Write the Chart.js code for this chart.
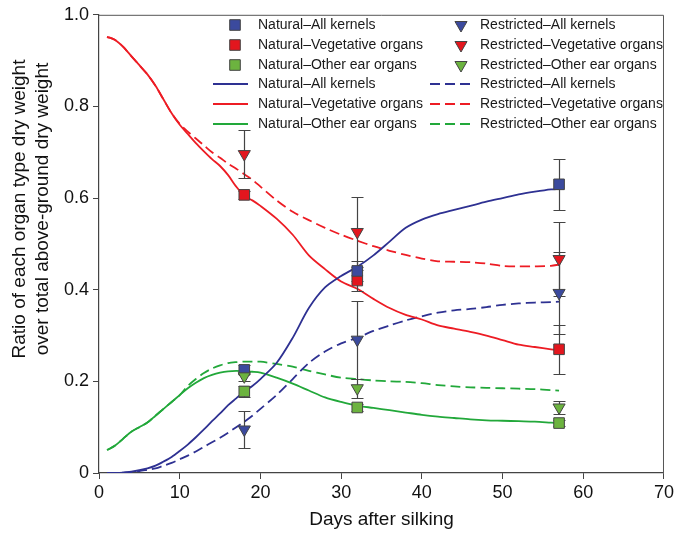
<!DOCTYPE html>
<html>
<head>
<meta charset="utf-8">
<script src="https://cdn.jsdelivr.net/npm/chart.js@4/dist/chart.umd.min.js"></script>
<style>
  html, body { margin: 0; padding: 0; background: #fff; }
  #wrap { width: 677px; height: 537px; position: relative; }
</style>
</head>
<body>
<div id="wrap"><canvas id="chart"></canvas></div>
<script>
/* ================================================
   DATA
================================================ */

const curveDays = [1, 2, 3, 4, 5, 6, 7, 8, 9, 10, 11, 12, 13, 14, 15, 16, 17, 18, 19, 20,
  22, 24, 26, 28, 30, 32, 34, 36, 38, 40, 42, 44, 46, 48, 50, 52, 54, 56, 57];

const natAllCurve = [0, 0, 0.001, 0.003, 0.006, 0.01, 0.016, 0.025, 0.035, 0.048, 0.062, 0.078, 0.095,
  0.113, 0.13, 0.148, 0.163, 0.178, 0.19, 0.205, 0.24, 0.295, 0.36, 0.405, 0.43, 0.45, 0.475, 0.505,
  0.535, 0.553, 0.565, 0.574, 0.583, 0.592, 0.6, 0.608, 0.614, 0.619, 0.62];
const natVegCurve = [0.952, 0.945, 0.93, 0.91, 0.89, 0.87, 0.845, 0.815, 0.785, 0.76, 0.74, 0.72,
  0.702, 0.685, 0.67, 0.65, 0.625, 0.605, 0.595, 0.583, 0.555, 0.52, 0.475, 0.445, 0.418, 0.402, 0.38,
  0.36, 0.345, 0.335, 0.322, 0.315, 0.308, 0.3, 0.29, 0.28, 0.275, 0.27, 0.268];
const natOthCurve = [0.05, 0.06, 0.075, 0.09, 0.1, 0.11, 0.125, 0.14, 0.155, 0.17, 0.185, 0.197,
  0.207, 0.214, 0.219, 0.222, 0.223, 0.222, 0.221, 0.219, 0.208, 0.195, 0.18, 0.165, 0.155, 0.147,
  0.142, 0.137, 0.132, 0.127, 0.123, 0.12, 0.117, 0.115, 0.114, 0.113, 0.112, 0.11, 0.109];

const resAllCurve = [0, 0, 0.001, 0.002, 0.004, 0.007, 0.01, 0.016, 0.022, 0.03, 0.038, 0.047, 0.057,
  0.067, 0.077, 0.088, 0.1, 0.112, 0.125, 0.14, 0.17, 0.205, 0.24, 0.265, 0.283, 0.295, 0.31, 0.322,
  0.333, 0.342, 0.35, 0.355, 0.358, 0.362, 0.367, 0.37, 0.372, 0.373, 0.374];
const resVegCurve = [0.952, 0.945, 0.93, 0.91, 0.89, 0.87, 0.845, 0.815, 0.785, 0.762, 0.745, 0.73,
  0.715, 0.7, 0.688, 0.675, 0.664, 0.652, 0.64, 0.625, 0.595, 0.57, 0.552, 0.535, 0.52, 0.507, 0.495,
  0.485, 0.476, 0.468, 0.462, 0.461, 0.46, 0.457, 0.452, 0.451, 0.451, 0.452, 0.455];
const resOthCurve = [0.05, 0.06, 0.075, 0.09, 0.1, 0.11, 0.125, 0.14, 0.155, 0.17, 0.19, 0.205,
  0.218, 0.228, 0.235, 0.24, 0.242, 0.243, 0.243, 0.243, 0.238, 0.232, 0.223, 0.215, 0.208, 0.205,
  0.202, 0.2, 0.199, 0.196, 0.192, 0.189, 0.187, 0.186, 0.185, 0.184, 0.183, 0.181, 0.18];

const sampleDays = [18, 32, 57];

const natAllPts = [0.225, 0.441, 0.63];
const natVegPts = [0.607, 0.42, 0.27];
const natOthPts = [0.178, 0.143, 0.109];
const resAllPts = [0.095, 0.291, 0.393];
const resVegPts = [0.696, 0.526, 0.467];
const resOthPts = [0.211, 0.185, 0.143];

const natAllErr = [0.01, 0.022, 0.055];
const natVegErr = [0.008, 0.022, 0.053];
const natOthErr = [0.012, 0.008, 0.006];
const resAllErr = [0.04, 0.085, 0.09];
const resVegErr = [0.052, 0.076, 0.08];
const resOthErr = [0.01, 0.021, 0.015];

const xTicks = [0, 10, 20, 30, 40, 50, 60, 70];
const yTicks = [0, 0.2, 0.4, 0.6, 0.8, 1.0];

const yTitleLines = ['Ratio of each organ type dry weight', 'over total above-ground dry weight'];

/* ================================================
   COLORS
================================================ */

const BLUE  = '#2e3192';
const RED   = '#ed1c24';
const GREEN = '#22a83a';
const FILL_BLUE  = '#3b4a9e';
const FILL_RED   = '#e3161e';
const FILL_GREEN = '#6cb33f';
const EDGE = '#444';
const FONT = '"Liberation Sans", Arial, Helvetica, sans-serif';

const pairs = (xs, ys) => xs.map((x, i) => ({ x, y: ys[i] }));

function markerSet(label, ys, errs, fill, shape) {
  return {
    label,
    data: pairs(sampleDays, ys),
    errors: errs,
    showLine: false,
    pointStyle: shape,
    rotation: shape === 'triangle' ? 180 : 0,
    pointRadius: shape === 'triangle' ? 7 : 7.5,
    pointHoverRadius: shape === 'triangle' ? 7 : 7.5,
    backgroundColor: fill,
    borderColor: EDGE,
    borderWidth: 1,
  };
}

function curveSet(label, ys, color, dashed) {
  return {
    label,
    data: pairs(curveDays, ys),
    showLine: true,
    pointRadius: 0,
    borderColor: color,
    backgroundColor: color,
    borderWidth: 1.8,
    borderDash: dashed ? [10, 5] : [],
    tension: 0.3,
    fill: false,
  };
}

// markers first: they are drawn last, on top
const datasets = [
  markerSet('Restricted–Other ear organs', resOthPts, resOthErr, FILL_GREEN, 'triangle'),
  markerSet('Natural–Other ear organs',    natOthPts, natOthErr, FILL_GREEN, 'rect'),
  markerSet('Restricted–All kernels',      resAllPts, resAllErr, FILL_BLUE,  'triangle'),
  markerSet('Natural–All kernels',         natAllPts, natAllErr, FILL_BLUE,  'rect'),
  markerSet('Restricted–Vegetative organs', resVegPts, resVegErr, FILL_RED,  'triangle'),
  markerSet('Natural–Vegetative organs',   natVegPts, natVegErr, FILL_RED,   'rect'),
  curveSet('Natural–All kernels',          natAllCurve, BLUE,  false),
  curveSet('Natural–Vegetative organs',    natVegCurve, RED,   false),
  curveSet('Natural–Other ear organs',     natOthCurve, GREEN, false),
  curveSet('Restricted–All kernels',       resAllCurve, BLUE,  true),
  curveSet('Restricted–Vegetative organs', resVegCurve, RED,   true),
  curveSet('Restricted–Other ear organs',  resOthCurve, GREEN, true),
];
const FIRST_CURVE = 6;

/* ================================================
   PLUGINS
================================================ */

const errorBars = {
  id: 'errorBars',
  afterDatasetDraw(chart, args) {
    if (args.index !== FIRST_CURVE) return;
    const { ctx } = chart;
    const xs = chart.scales.x, ys = chart.scales.y;
    ctx.save();
    ctx.strokeStyle = EDGE;
    ctx.lineWidth = 1.2;
    chart.data.datasets.slice(0, FIRST_CURVE).forEach(ds => {
      ds.data.forEach((p, i) => {
        const e = ds.errors[i];
        const px = Math.round(xs.getPixelForValue(p.x)) + 0.5;
        const yt = Math.round(ys.getPixelForValue(p.y + e)) + 0.5;
        const yb = Math.round(ys.getPixelForValue(p.y - e)) + 0.5;
        ctx.beginPath();
        ctx.moveTo(px, yt); ctx.lineTo(px, yb);
        ctx.moveTo(px - 6, yt); ctx.lineTo(px + 6, yt);
        ctx.moveTo(px - 6, yb); ctx.lineTo(px + 6, yb);
        ctx.stroke();
      });
    });
    ctx.restore();
  },
};

const frameAndLegend = {
  id: 'frameAndLegend',
  afterDraw(chart) {
    const { ctx, chartArea: a } = chart;
    ctx.save();

    /* frame: top + right */
    ctx.strokeStyle = '#555';
    ctx.lineWidth = 1;
    ctx.beginPath();
    ctx.moveTo(a.left, a.top + 0.5);
    ctx.lineTo(a.right - 0.5, a.top + 0.5);
    ctx.lineTo(a.right - 0.5, a.bottom);
    ctx.stroke();

    /* y title, two rotated lines */
    ctx.font = '19px ' + FONT;
    ctx.fillStyle = '#111';
    ctx.textAlign = 'center';
    ctx.textBaseline = 'middle';
    yTitleLines.forEach((t, i) => {
      ctx.save();
      ctx.translate(20 + i * 23, 209);
      ctx.rotate(-Math.PI / 2);
      ctx.fillText(t, 0, 0);
      ctx.restore();
    });

    /* legend */
    const rows = [25, 45, 65, 84, 104, 124];
    const cols = [
      { mark: 235, text: 258, l0: 213, l1: 248 },
      { mark: 461, text: 480, l0: 430, l1: 471 },
    ];
    const markers = [
      [datasets[3], datasets[2]],
      [datasets[5], datasets[4]],
      [datasets[1], datasets[0]],
    ];
    const curves = [
      [datasets[6], datasets[9]],
      [datasets[7], datasets[10]],
      [datasets[8], datasets[11]],
    ];
    ctx.font = '14px ' + FONT;
    ctx.textBaseline = 'middle';
    ctx.textAlign = 'left';

    markers.forEach((row, r) => {
      row.forEach((ds, c) => {
        const col = cols[c];
        ctx.fillStyle = ds.backgroundColor;
        ctx.strokeStyle = EDGE;
        ctx.lineWidth = 1;
        Chart.helpers.drawPoint(ctx, {
          pointStyle: ds.pointStyle,
          rotation: ds.rotation,
          radius: ds.pointRadius,
          borderWidth: 1,
        }, col.mark, rows[r]);
        ctx.fillStyle = '#1a1a1a';
        ctx.fillText(ds.label, col.text, rows[r]);
      });
    });

    curves.forEach((row, r) => {
      row.forEach((ds, c) => {
        const col = cols[c];
        const y = rows[r + 3];
        ctx.strokeStyle = ds.borderColor;
        ctx.lineWidth = 1.8;
        ctx.setLineDash(ds.borderDash);
        ctx.beginPath();
        ctx.moveTo(col.l0, y);
        ctx.lineTo(col.l1, y);
        ctx.stroke();
        ctx.setLineDash([]);
        ctx.fillStyle = '#1a1a1a';
        ctx.fillText(ds.label, col.text, y);
      });
    });

    ctx.restore();
  },
};

/* ================================================
   CHART
================================================ */

new Chart(document.getElementById('chart').getContext('2d'), {
  type: 'scatter',
  data: { datasets },
  options: {
    responsive: true,
    maintainAspectRatio: false,
    animation: false,
    layout: { padding: { left: 0, top: 11, right: 9, bottom: 0 } },
    plugins: {
      legend: { display: false },
      tooltip: { enabled: false },
    },
    scales: {
      x: {
        type: 'linear',
        min: 0, max: 70,
        afterFit: s => { s.height = 64; },
        afterBuildTicks: s => { s.ticks = xTicks.map(v => ({ value: v })); },
        ticks: {
          color: '#111', padding: 3, autoSkip: false, maxRotation: 0,
          font: { family: FONT, size: 18 },
        },
        grid: { drawOnChartArea: false, drawTicks: true, tickLength: 6, color: EDGE },
        border: { color: EDGE, width: 1.2 },
        title: {
          display: true, text: 'Days after silking', color: '#111',
          font: { family: FONT, size: 19 }, padding: { top: 0, bottom: 6 },
        },
      },
      y: {
        type: 'linear',
        min: 0, max: 1,
        afterFit: s => { s.width = 99; },
        afterBuildTicks: s => { s.ticks = yTicks.map(v => ({ value: v })); },
        ticks: {
          color: '#111', padding: 4,
          font: { family: FONT, size: 18 },
          callback: v => (v === 0 ? '0' : v.toFixed(1)),
        },
        grid: { drawOnChartArea: false, drawTicks: true, tickLength: 6, color: EDGE },
        border: { color: EDGE, width: 1.2 },
        title: { display: false },
      },
    },
  },
  plugins: [errorBars, frameAndLegend],
});
</script>
</body>
</html>
